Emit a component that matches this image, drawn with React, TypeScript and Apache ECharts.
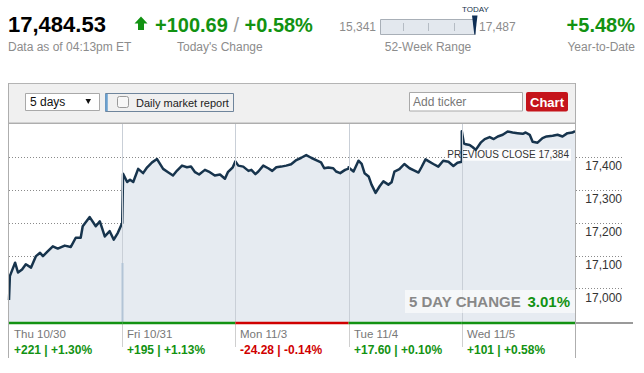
import React, { useEffect, useRef } from "react";
import * as echarts from "echarts";

// ---- data ----
const lastValue = "17,484.53";
const asOf = "Data as of 04:13pm ET";
const todayChange = "+100.69";
const todayPct = "+0.58%";
const low52 = "15,341";
const high52 = "17,487";
const ytd = "+5.48%";
const prevClose = 17384;
const fiveDayChange = "3.01%";

const dayLabels = ["Thu 10/30", "Fri 10/31", "Mon 11/3", "Tue 11/4", "Wed 11/5"];
const dayChanges = ["+221 | +1.30%", "+195 | +1.13%", "-24.28 | -0.14%", "+17.60 | +0.10%", "+101 | +0.58%"];
const yTicks = [17000, 17100, 17200, 17300, 17400];

// [minutes after open, index value]
const thu: [number, number][] = [
  [0, 16965], [3, 17038], [21, 17079], [31, 17049], [45, 17058], [58, 17074], [76, 17064], [93, 17099],
  [107, 17109], [117, 17099], [134, 17114], [151, 17129], [168, 17122], [192, 17131], [213, 17127],
  [230, 17155], [247, 17155], [254, 17190], [278, 17218], [299, 17190], [313, 17205], [330, 17159],
  [347, 17175], [361, 17149], [375, 17170], [385, 17190], [390, 17200],
];
const fri: [number, number][] = [
  [0, 17200], [3, 17350], [17, 17325], [27, 17332], [38, 17325], [55, 17365], [72, 17352], [86, 17370],
  [103, 17385], [120, 17395], [127, 17385], [141, 17365], [158, 17355], [175, 17345], [189, 17360],
  [206, 17375], [223, 17370], [237, 17372], [251, 17355], [265, 17348], [285, 17362], [302, 17355],
  [319, 17345], [337, 17348], [354, 17335], [364, 17355], [381, 17370], [390, 17388],
];
const mon: [number, number][] = [
  [0, 17389], [10, 17375], [27, 17372], [45, 17359], [55, 17362], [69, 17349], [79, 17357], [96, 17375],
  [113, 17367], [127, 17359], [141, 17370], [158, 17372], [175, 17375], [192, 17379], [210, 17392],
  [227, 17399], [244, 17407], [261, 17399], [278, 17392], [295, 17385], [306, 17367], [320, 17369],
  [337, 17367], [347, 17357], [361, 17352], [378, 17362], [390, 17366],
];
const tue: [number, number][] = [
  [0, 17370], [3, 17367], [17, 17357], [34, 17390], [45, 17380], [55, 17352], [69, 17342], [79, 17317],
  [93, 17292], [107, 17312], [120, 17327], [137, 17317], [148, 17324], [158, 17357], [175, 17364],
  [192, 17380], [210, 17367], [227, 17360], [241, 17354], [251, 17370], [265, 17394], [278, 17387],
  [292, 17380], [309, 17372], [326, 17390], [344, 17387], [361, 17374], [375, 17384], [390, 17387],
];
const wed: [number, number][] = [
  [0, 17480], [7, 17443], [14, 17440], [27, 17438], [38, 17431], [48, 17423], [65, 17445], [79, 17456],
  [96, 17462], [110, 17456], [124, 17464], [141, 17469], [158, 17479], [175, 17476], [192, 17474],
  [210, 17472], [220, 17476], [234, 17469], [244, 17448], [261, 17445], [278, 17459], [292, 17464],
  [313, 17466], [330, 17469], [347, 17464], [364, 17474], [381, 17476], [390, 17480],
];
const days = [thu, fri, mon, tue, wed];

// ---- layout ----
const MIN_PER_DAY = 390;
const plotLeft = 9;
const plotRight = 575;
const plotTop = 123;
const plotBottom = 323;
const gridRight = 624;
const dayW = (plotRight - plotLeft) / 5;
const yMin = 16895;
const yMax = 17505;
const xMax = (5 * MIN_PER_DAY * (gridRight - plotLeft)) / (plotRight - plotLeft);

const FONT = '"Liberation Sans", Arial, Helvetica, sans-serif';
const GREEN = "#129212";
const RED = "#d00000";
const GRAY = "#8c8c8c";
const NAVY = "#17344d";

const fmt = (v: number) => v.toLocaleString("en-US");

function txt(text: string, x: number, y: number, size: number, fill: string, extra: any = {}) {
  return {
    type: "text",
    x,
    y,
    z: 20,
    silent: true,
    style: {
      text,
      fill,
      fontSize: size,
      fontFamily: FONT,
      fontWeight: extra.bold ? "bold" : "normal",
      align: extra.align || "left",
      verticalAlign: "middle",
      ...(extra.rich ? { rich: extra.rich } : {}),
    },
  };
}
function ln(x1: number, y1: number, x2: number, y2: number, stroke: string, w = 1, z = 15) {
  return { type: "line", z, silent: true, shape: { x1, y1, x2, y2 }, style: { stroke, lineWidth: w } };
}

export default function App() {
  const ref = useRef<HTMLDivElement>(null);
  useEffect(() => {
    if (!ref.current) return;
    const chart = echarts.init(ref.current, null, { renderer: "svg" });

    const data: [number, number][] = [];
    days.forEach((d, i) => d.forEach(([m, v]) => data.push([i * MIN_PER_DAY + m, v])));

    const g: any[] = [];
    // header
    g.push(txt(lastValue, 8, 24.5, 22, "#000", { bold: true }));
    g.push(txt(asOf, 8, 47, 12, GRAY));
    g.push({
      type: "polygon", z: 20, silent: true,
      shape: { points: [[141, 16.5], [147.5, 23.5], [144, 23.5], [144, 30], [138, 30], [138, 23.5], [134.5, 23.5]] },
      style: { fill: GREEN },
    });
    g.push(
      txt(`{g|${todayChange}} {s|/} {g|${todayPct}}`, 155, 24.5, 20, GREEN, {
        bold: true,
        rich: {
          g: { fill: GREEN, fontSize: 20, fontFamily: FONT, fontWeight: "bold" },
          s: { fill: "#999", fontSize: 20, fontFamily: FONT, fontWeight: "normal" },
        },
      })
    );
    g.push(txt("Today's Change", 177, 47, 12, GRAY));
    // 52 week range
    g.push(txt("TODAY", 475.5, 9, 8, NAVY, { align: "center" }));
    g.push(txt(low52, 376, 26.5, 12, GRAY, { align: "right" }));
    g.push(txt(high52, 479, 26.5, 12, GRAY));
    g.push({
      type: "rect", z: 18, silent: true,
      shape: { x: 380.5, y: 19.5, width: 95, height: 15 },
      style: { fill: "#e3e8ee", stroke: "#a8afb7", lineWidth: 1 },
    });
    [403.5, 428.5, 454.5].forEach((x) => g.push(ln(x, 23, x, 31, "#b5bcc4", 1, 19)));
    g.push({
      type: "polygon", z: 20, silent: true,
      shape: { points: [[472, 15.5], [477.5, 15.5], [475.2, 34.5], [474.3, 34.5]] },
      style: { fill: "#0f2f55" },
    });
    g.push(txt("52-Week Range", 428, 47, 12, GRAY, { align: "center" }));
    g.push(txt(ytd, 635, 24.5, 20, GREEN, { align: "right", bold: true }));
    g.push(txt("Year-to-Date", 635, 47, 12, GRAY, { align: "right" }));

    // toolbar
    g.push({
      type: "rect", z: 10, silent: true,
      shape: { x: 8.5, y: 83.5, width: 567, height: 39.5 },
      style: { fill: "#f0f0f0", stroke: "#b4b4b4", lineWidth: 1 },
    });
    g.push({
      type: "rect", z: 12, silent: true,
      shape: { x: 25.5, y: 93.5, width: 74, height: 17 },
      style: { fill: "#fff", stroke: "#a9a9a9", lineWidth: 1 },
    });
    g.push(txt("5 days", 30, 102, 12, "#111"));
    g.push({
      type: "polygon", z: 20, silent: true,
      shape: { points: [[85.5, 99], [91, 99], [88.25, 104]] },
      style: { fill: "#111" },
    });
    g.push({
      type: "rect", z: 12, silent: true,
      shape: { x: 105.5, y: 93.5, width: 128, height: 18 },
      style: { fill: "#f0f0f0", stroke: "#6f859c", lineWidth: 1 },
    });
    g.push(ln(106.5, 94, 106.5, 111, "#6aa0cf", 2.5, 13));
    g.push({
      type: "rect", z: 13, silent: true,
      shape: { x: 117.5, y: 96.5, width: 11, height: 11, r: 2 },
      style: { fill: "#f7f7f7", stroke: "#9a9a9a", lineWidth: 1 },
    });
    g.push(txt("Daily market report", 136, 102.5, 11, "#222"));
    g.push({
      type: "rect", z: 12, silent: true,
      shape: { x: 409.5, y: 92.5, width: 113, height: 18.5 },
      style: { fill: "#fff", stroke: "#a9a9a9", lineWidth: 1 },
    });
    g.push(txt("Add ticker", 413, 102, 12, "#777"));
    g.push({
      type: "rect", z: 12, silent: true,
      shape: { x: 526, y: 92, width: 42, height: 19.5, r: 2 },
      style: { fill: "#c5141b" },
    });
    g.push(txt("Chart", 547, 102, 13, "#fff", { bold: true, align: "center" }));

    // plot frame
    g.push(ln(8.5, 83, 8.5, 358, "#aeaeae", 1, 16));
    g.push(ln(575.5, 83, 575.5, 358, "#aeaeae", 1, 16));
    g.push(ln(8, plotTop + 0.5, 576, plotTop + 0.5, "#aeaeae", 1, 16));
    // day separators
    for (let i = 1; i < 5; i++) {
      const x = Math.round(plotLeft + i * dayW) + 0.5;
      g.push(ln(x, plotTop + 1, x, plotBottom - 1, "#c9cfd7", 1, 14));
      g.push(ln(x, plotBottom + 1, x, 347, "#cfcfcf", 1, 14));
    }
    g.push(ln(Math.round(plotLeft + dayW) + 0.5, 263, Math.round(plotLeft + dayW) + 0.5, plotBottom - 1, "#b3c4d6", 2, 14));
    // bottom colored day bar
    for (let i = 0; i < 5; i++) {
      const up = !dayChanges[i].startsWith("-");
      const x1 = plotLeft + i * dayW;
      g.push(ln(x1, plotBottom, x1 + dayW, plotBottom, up ? GREEN : RED, 2.5, 17));
      g.push(txt(dayLabels[i], Math.round(x1) + 5, 333.5, 11.5, "#777"));
      g.push(txt(dayChanges[i], Math.round(x1) + 5, 349.5, 12, up ? GREEN : RED, { bold: true }));
    }
    g.push(ln(576, plotBottom, 633, plotBottom, "#9a9a9a", 2, 17));

    // 5 day change box
    g.push({
      type: "rect", z: 18, silent: true,
      shape: { x: 405, y: 290, width: 170, height: 23 },
      style: { fill: "rgba(255,255,255,0.6)" },
    });
    g.push(txt("5 DAY CHANGE", 409, 301.5, 15, "#888", { bold: true }));
    g.push(txt(fiveDayChange, 570, 301.5, 15, GREEN, { bold: true, align: "right" }));

    const markData: any[] = yTicks.map((v) => ({
      yAxis: v,
      lineStyle: { type: [1, 2], color: "#8a8a8a", width: 1 },
      label: {
        show: true,
        position: "insideEndBottom",
        formatter: fmt(v),
        color: "#333",
        fontSize: 12,
        fontFamily: FONT,
        distance: [2, 3],
      },
    }));
    markData.push([
      {
        coord: [4 * MIN_PER_DAY, prevClose],
        lineStyle: { type: [3, 2], color: "#111", width: 1 },
        label: {
          show: true,
          position: "insideEndTop",
          formatter: "PREVIOUS CLOSE " + fmt(prevClose),
          color: "#333",
          fontSize: 10,
          fontFamily: FONT,
          backgroundColor: "rgba(255,255,255,0.85)",
          padding: [1, 2],
          distance: [4, 2],
        },
      },
      { coord: [5 * MIN_PER_DAY, prevClose] },
    ]);

    chart.setOption({
      animation: false,
      textStyle: { fontFamily: FONT },
      grid: { left: plotLeft, right: 644 - gridRight, top: plotTop, bottom: 373 - plotBottom },
      xAxis: { type: "value", min: 0, max: xMax, show: false },
      yAxis: { type: "value", min: yMin, max: yMax, show: false },
      graphic: { elements: g },
      series: [
        {
          type: "line",
          data,
          showSymbol: false,
          symbol: "none",
          silent: true,
          z: 5,
          lineStyle: { color: NAVY, width: 2.5, join: "round" },
          areaStyle: { color: "#e6ebf1", origin: "start", opacity: 1 },
          markLine: {
            silent: true,
            symbol: ["none", "none"],
            animation: false,
            data: markData,
          },
        },
      ],
    });
    return () => chart.dispose();
  }, []);
  return <div ref={ref} style={{ position: "absolute", left: 0, top: 0, width: 644, height: 373 }} />;
}
